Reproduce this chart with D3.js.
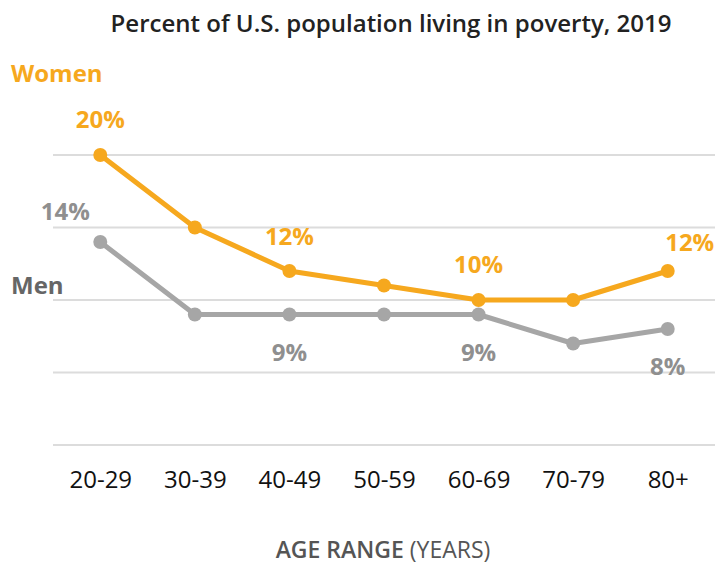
<!DOCTYPE html>
<html>
<head>
<meta charset="utf-8">
<script src="https://cdn.jsdelivr.net/npm/d3@7"></script>
<style>
  body { margin: 0; background: #fff; }
  svg { display: block; font-family: "Open Sans", sans-serif; }
</style>
</head>
<body>
<div id="chart"></div>
<script>
// Data.
const ageRanges = ['20-29', '30-39', '40-49', '50-59', '60-69', '70-79', '80+'];
const women = [20, 15, 12, 11, 10, 10, 12];
const men = [14, 9, 9, 9, 9, 7, 8];
const yTicks = [0, 5, 10, 15, 20];
// Which points carry a percent label.
const womenLabelIdx = [0, 2, 4, 6];
const menLabelIdx = [0, 2, 4, 6];

const attrs = {
  svgWidth: 715,
  svgHeight: 565,
  plotLeft: 53,
  plotRight: 715,
  plotTop: 155,
  plotBottom: 445,
  womenColor: '#f6a81e',
  menColor: '#a6a6a6',
  gridColor: '#dcdcdc',
};

const svg = d3.select('#chart').append('svg')
  .attr('width', attrs.svgWidth)
  .attr('height', attrs.svgHeight);

const x = d3.scalePoint()
  .domain(ageRanges)
  .range([attrs.plotLeft, attrs.plotRight])
  .padding(0.5);

const y = d3.scaleLinear()
  .domain([0, 20])
  .range([attrs.plotBottom, attrs.plotTop]);

// Gridlines.
svg.append('g')
  .selectAll('line')
  .data(yTicks)
  .join('line')
  .attr('x1', attrs.plotLeft)
  .attr('x2', attrs.plotRight)
  .attr('y1', d => y(d))
  .attr('y2', d => y(d))
  .attr('stroke', attrs.gridColor)
  .attr('stroke-width', 2);

// X axis labels.
const xAxis = d3.axisBottom(x).tickSize(0).tickPadding(0);
svg.append('g')
  .attr('transform', 'translate(0,' + (attrs.plotBottom + 43) + ')')
  .call(xAxis)
  .call(g => g.select('.domain').remove())
  .call(g => g.selectAll('text')
    .attr('dy', 0)
    .attr('font-family', '"Open Sans", sans-serif')
    .attr('font-size', 24)
    .attr('fill', '#111'));

// Title.
svg.append('text')
  .attr('x', 391)
  .attr('y', 32)
  .attr('text-anchor', 'middle')
  .attr('font-size', 24)
  .attr('font-weight', 600)
  .attr('fill', '#222')
  .text('Percent of U.S. population living in poverty, 2019');

// Axis title.
const axisTitle = svg.append('text')
  .attr('x', 383)
  .attr('y', 558)
  .attr('text-anchor', 'middle')
  .attr('font-size', 23)
  .attr('fill', '#555');
axisTitle.append('tspan').attr('font-weight', 600).text('AGE RANGE');
axisTitle.append('tspan').text(' (YEARS)');

const line = d3.line()
  .x((d, i) => x(ageRanges[i]))
  .y(d => y(d));

function drawSeries(values, color) {
  const g = svg.append('g');
  g.append('path')
    .datum(values)
    .attr('d', line)
    .attr('fill', 'none')
    .attr('stroke', color)
    .attr('stroke-width', 5)
    .attr('stroke-linejoin', 'round');
  g.selectAll('circle')
    .data(values)
    .join('circle')
    .attr('cx', (d, i) => x(ageRanges[i]))
    .attr('cy', d => y(d))
    .attr('r', 7)
    .attr('fill', color);
  return g;
}

drawSeries(men, attrs.menColor);
drawSeries(women, attrs.womenColor);

// Percent labels; offsets per point.
const womenOffsets = { 0: [0, -27], 2: [0, -26], 4: [0, -27], 6: [22, -20] };
const menOffsets = { 0: [-35, -22], 2: [0, 46], 4: [0, 46], 6: [0, 46] };

svg.append('g')
  .selectAll('text')
  .data(womenLabelIdx)
  .join('text')
  .attr('x', i => x(ageRanges[i]) + womenOffsets[i][0])
  .attr('y', i => y(women[i]) + womenOffsets[i][1])
  .attr('text-anchor', 'middle')
  .attr('font-size', 24)
  .attr('font-weight', 700)
  .attr('fill', attrs.womenColor)
  .text(i => women[i] + '%');

svg.append('g')
  .selectAll('text')
  .data(menLabelIdx)
  .join('text')
  .attr('x', i => x(ageRanges[i]) + menOffsets[i][0])
  .attr('y', i => y(men[i]) + menOffsets[i][1])
  .attr('text-anchor', 'middle')
  .attr('font-size', 24)
  .attr('font-weight', 700)
  .attr('fill', '#8f8f8f')
  .text(i => men[i] + '%');

// Series names.
svg.append('text')
  .attr('x', 11)
  .attr('y', 82)
  .attr('font-size', 24)
  .attr('font-weight', 700)
  .attr('fill', attrs.womenColor)
  .text('Women');

svg.append('text')
  .attr('x', 11)
  .attr('y', 294)
  .attr('font-size', 24)
  .attr('font-weight', 700)
  .attr('fill', '#666')
  .text('Men');
</script>
</body>
</html>
